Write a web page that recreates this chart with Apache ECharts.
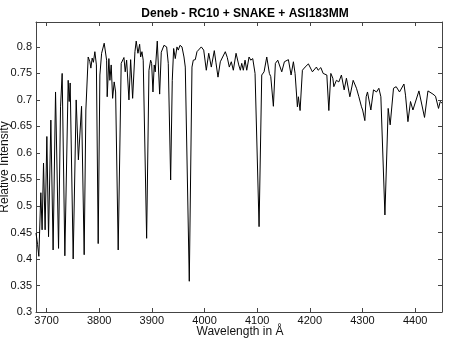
<!DOCTYPE html>
<html>
<head>
<meta charset="utf-8">
<script src="https://cdn.jsdelivr.net/npm/echarts@6/dist/echarts.min.js"></script>
<style>
  html, body { margin: 0; padding: 0; background: #fff; }
  #chart { width: 451px; height: 341px; }
</style>
</head>
<body>
<div id="chart"></div>
<script>
// spectrum data
var wavelength = [
  3680, 3683, 3685.4, 3689.2, 3691.6, 3694.3, 3697.3, 3700.6, 3703.8, 3708.2,
  3712.5, 3717.1, 3722.8, 3726.6, 3729.7, 3734.8, 3741.1, 3743.0, 3744.9, 3750.6,
  3756.3, 3760.5, 3766.5, 3771.5, 3774.7, 3779.1, 3782.3, 3784.2, 3786.7, 3789.0,
  3791.8, 3794.7, 3798.1, 3801.3, 3804.6, 3809.5, 3814.1, 3815.2, 3818.4, 3820.3,
  3822.8, 3825.5, 3828.5, 3831.2, 3836.1, 3841.8, 3844.5, 3847.0, 3849.4, 3852.1,
  3856.5, 3859.7, 3863.5, 3867.9, 3870.3, 3873.6, 3876.8, 3878.7, 3881.2, 3883.6,
  3890.1, 3894.5, 3897.7, 3899.6, 3902.1, 3904.5, 3906.4, 3910.3, 3914.8, 3917.9,
  3923.0, 3928.1, 3931.2, 3935.7, 3938.8, 3941.4, 3944.5, 3947.7, 3950.2, 3953.4,
  3957.2, 3961.0, 3963.5, 3971.1, 3976.2, 3978.7, 3982.5, 3985.7, 3993.9, 3998.5,
  4003.4, 4008.0, 4012.9, 4018.6, 4021.8, 4025.6, 4030.0, 4039.5, 4043.3, 4047.1,
  4050.9, 4054.7, 4059.9, 4065.0, 4068.0, 4070.7, 4073.7, 4077.0, 4080.2, 4084.6,
  4087.8, 4091.6, 4096.0, 4103.6, 4108.7, 4113.1, 4118.2, 4123.2, 4125.8, 4130.8,
  4134.6, 4139.1, 4142.2, 4146.7, 4151.7, 4159.3, 4164.4, 4168.8, 4172.0, 4176.4,
  4178.3, 4181.5, 4185.9, 4191.0, 4197.3, 4204.9, 4212.5, 4215.8, 4220.9, 4225.3,
  4228.5, 4232.3, 4236.1, 4239.9, 4243.7, 4245.6, 4250.5, 4255.1, 4260.0, 4265.2,
  4269.5, 4276.0, 4282.3, 4288.6, 4293.1, 4298.1, 4300.3, 4304.5, 4307.0, 4309.5,
  4315.9, 4320.9, 4326.6, 4331.1, 4334.9, 4342.6, 4348.8, 4352.6, 4358.9, 4364.0,
  4370.3, 4378.7, 4381.7, 4386.3, 4391.2, 4395.8, 4407.2, 4417.8, 4424.3, 4433.8,
  4438.7, 4444.4, 4447.7, 4451
];
var intensity = [
  0.449, 0.427, 0.405, 0.525, 0.455, 0.581, 0.455, 0.631, 0.442, 0.662,
  0.417, 0.715, 0.420, 0.687, 0.750, 0.406, 0.737, 0.697, 0.732, 0.400,
  0.700, 0.587, 0.688, 0.408, 0.681, 0.781, 0.772, 0.760, 0.779, 0.771,
  0.791, 0.766, 0.429, 0.747, 0.788, 0.807, 0.775, 0.706, 0.778, 0.737,
  0.766, 0.703, 0.734, 0.715, 0.417, 0.769, 0.771, 0.780, 0.753, 0.775,
  0.700, 0.776, 0.703, 0.791, 0.811, 0.788, 0.805, 0.781, 0.791, 0.775,
  0.439, 0.756, 0.775, 0.769, 0.715, 0.766, 0.753, 0.811, 0.711, 0.790,
  0.803, 0.800, 0.769, 0.549, 0.737, 0.797, 0.778, 0.800, 0.794, 0.803,
  0.800, 0.781, 0.762, 0.358, 0.762, 0.775, 0.776, 0.791, 0.800, 0.794,
  0.756, 0.788, 0.762, 0.793, 0.770, 0.743, 0.772, 0.791, 0.780, 0.762,
  0.772, 0.756, 0.788, 0.766, 0.756, 0.769, 0.756, 0.775, 0.756, 0.781,
  0.775, 0.778, 0.750, 0.461, 0.747, 0.753, 0.781, 0.750, 0.744, 0.688,
  0.769, 0.775, 0.772, 0.753, 0.772, 0.776, 0.747, 0.772, 0.750, 0.687,
  0.706, 0.680, 0.756, 0.762, 0.768, 0.753, 0.762, 0.756, 0.761, 0.750,
  0.753, 0.747, 0.680, 0.750, 0.741, 0.725, 0.737, 0.734, 0.747, 0.719,
  0.741, 0.706, 0.737, 0.722, 0.706, 0.687, 0.681, 0.661, 0.706, 0.715,
  0.681, 0.719, 0.715, 0.722, 0.706, 0.483, 0.684, 0.653, 0.722, 0.725,
  0.715, 0.730, 0.709, 0.659, 0.697, 0.681, 0.717, 0.667, 0.717, 0.711,
  0.707, 0.684, 0.697, 0.694
];
var xTicks = [3700, 3800, 3900, 4000, 4100, 4200, 4300, 4400];
var yTicks = [0.3, 0.35, 0.4, 0.45, 0.5, 0.55, 0.6, 0.65, 0.7, 0.75, 0.8];

var points = wavelength.map(function (w, i) { return [w, intensity[i]]; });

var chart = echarts.init(document.getElementById('chart'));

var fontFam = '"Liberation Sans", Arial, Helvetica, sans-serif';
var lineCol = '#444';

// 坐标轴公共样式 (matlab 风格：刻度朝内，四周边框)
function xAxisCfg(pos, showLabel) {
  return {
    type: 'value',
    position: pos,
    min: 3680,
    max: 4451,
    axisLine: { show: true, lineStyle: { color: lineCol, width: 1 } },
    axisTick: { show: true, inside: true, length: 4, customValues: xTicks, lineStyle: { color: lineCol } },
    axisLabel: {
      show: showLabel, customValues: xTicks, margin: 3, fontFamily: fontFam, fontSize: 11, color: '#111',
      formatter: function (v) { return String(v); }
    },
    splitLine: { show: false }
  };
}
function yAxisCfg(pos, showLabel) {
  return {
    type: 'value',
    position: pos,
    min: 0.3,
    max: 0.847,
    axisLine: { show: true, lineStyle: { color: lineCol, width: 1 } },
    axisTick: { show: true, inside: true, length: 4, customValues: yTicks, lineStyle: { color: lineCol } },
    axisLabel: {
      show: showLabel, customValues: yTicks, margin: 4, fontFamily: fontFam, fontSize: 11, color: '#111',
      formatter: function (v) { return String(+v.toFixed(2)); }
    },
    splitLine: { show: false }
  };
}

var option = {
  backgroundColor: '#fff',
  animation: false,
  title: {
    text: 'Deneb - RC10 + SNAKE + ASI183MM',
    left: 240,
    top: 3,
    textAlign: 'center',
    textStyle: { fontFamily: fontFam, fontSize: 12, fontWeight: 'bold', color: '#000' }
  },
  // 坐标轴标题 (左侧标题在原图中被裁掉一半)
  graphic: [
    {
      type: 'text', x: 5, y: 167, rotation: Math.PI / 2,
      style: { text: 'Relative Intensity', font: '12px ' + fontFam, fill: '#111', align: 'center', verticalAlign: 'middle' }
    },
    {
      type: 'text', x: 240, y: 332,
      style: { text: 'Wavelength in Å', font: '12px ' + fontFam, fill: '#111', align: 'center', verticalAlign: 'middle' }
    }
  ],
  grid: { left: 36, right: 9, top: 22, bottom: 29, containLabel: false },
  xAxis: [xAxisCfg('bottom', true), xAxisCfg('top', false)],
  yAxis: [yAxisCfg('left', true), yAxisCfg('right', false)],
  series: [{
    type: 'line',
    data: points,
    showSymbol: false,
    clip: true,
    lineStyle: { color: '#000', width: 1 }
  }]
};

chart.setOption(option);
</script>
</body>
</html>
